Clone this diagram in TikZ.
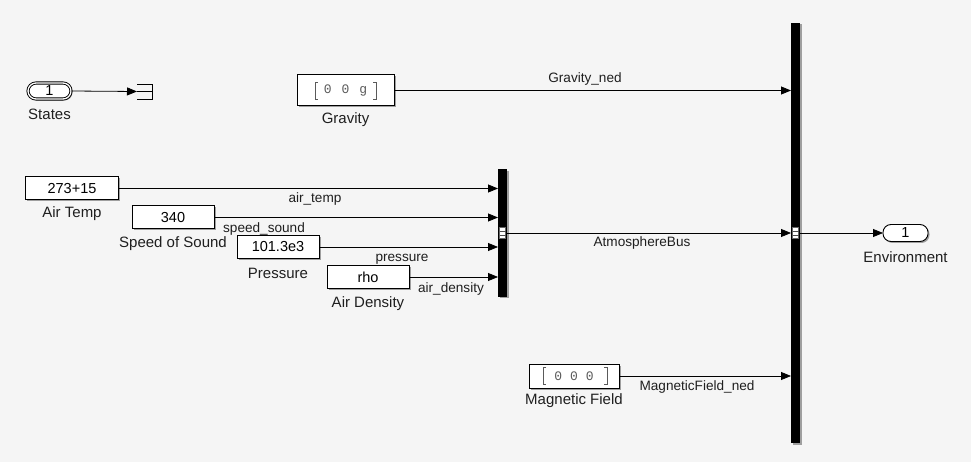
\documentclass[tikz,border=0pt]{standalone}
\usepackage{fontspec}
\setmainfont{Liberation Sans}
\newfontfamily\cmono{Liberation Mono}
\usetikzlibrary{arrows.meta,shadows,calc}
\definecolor{bgc}{HTML}{F5F5F5}
\definecolor{cgrey}{HTML}{5A5A5A}
\begin{document}
\begin{tikzpicture}[x=1pt,y=-1pt,
  every node/.style={font=\fontsize{14.5}{16}\selectfont, inner sep=0pt, outer sep=0pt},
  shad/.style={drop shadow={shadow xshift=1.5pt, shadow yshift=-1.5pt, opacity=0.35, fill=black}},
  blk/.style={draw, line width=1pt, fill=white, shad},
  bar/.style={fill=black, draw=none, minimum width=9pt, shad},
  port/.style={draw, line width=0.9pt, fill=white, rounded corners=8pt, minimum width=45pt, minimum height=17pt, shad},
  sig/.style={line width=0.8pt, -{Triangle[length=10pt,width=8pt]}},
  brk/.style={line width=0.8pt, cgrey},
  ctext/.style={font=\cmono\fontsize{13}{15}\selectfont, text=cgrey},
  lbl/.style={text=black!88, font=\fontsize{15}{17}\selectfont},
  slbl/.style={text=black!88, font=\fontsize{13.6}{15}\selectfont}
]
\fill[bgc] (0,0) rectangle (971,462);
\useasboundingbox (0,0) rectangle (971,462);

% bus bars
\node[bar, minimum height=127pt] (bc) at (502.5,233) {};
\node[bar, minimum height=420pt] (bs) at (795.5,233) {};

% inport States
\node[port, double, double distance=1.3pt, minimum width=43pt, minimum height=16pt] (states) at (49.5,91) {1};
\node[lbl] (statesl) at (49.5,114) {States};

% terminator
\node[minimum width=15pt, minimum height=15pt] (term) at (144.5,91.5) {};
\draw[line width=0.9pt] (term.north west) -- (term.north east) -- (term.south east) -- (term.south west);
\draw[line width=0.9pt] (term.west) -- (term.east);
\draw[sig] (states.east) -- (term.west);

% Gravity
\node[blk, minimum width=97pt, minimum height=31pt] (grav) at (345.5,90.5) {};
\node[ctext] (gravt) at (grav.center) {0\hspace{10pt}0\hspace{10pt}g};
\draw[brk] ($(grav.west)+(21,-8.5)$) -- ++(-3,0) -- ++(0,17) -- ++(3,0);
\draw[brk] ($(grav.east)+(-21,-8.5)$) -- ++(3,0) -- ++(0,17) -- ++(-3,0);
\node[lbl] (gravl) at (345.5,120) {Gravity};
\draw[sig] (grav.east) -- (grav.east -| bs.west);
\node[slbl] (gravn) at (585,79) {Gravity\_ned};

% Constants
\node[blk, minimum width=93pt, minimum height=23pt] (at) at (72,188.5) {273+15};
\node[lbl] (atl) at (72,214) {Air Temp};
\node[blk, minimum width=82pt, minimum height=23pt] (ss) at (173,217.5) {340};
\node[lbl] (ssl) at (173,244) {Speed of Sound};
\node[blk, minimum width=82pt, minimum height=23pt] (pr) at (278,247) {101.3e3};
\node[lbl] (prl) at (278,273) {Pressure};
\node[blk, minimum width=82pt, minimum height=23pt] (rho) at (368,277) {rho};
\node[lbl] (rhol) at (368,304) {Air Density};

\draw[sig] (at.east) -- (at.east -| bc.west);
\draw[sig] (ss.east) -- (ss.east -| bc.west);
\draw[sig] (pr.east) -- (pr.east -| bc.west);
\draw[sig] (rho.east) -- (rho.east -| bc.west);
\node[slbl] (atn) at (315,199) {air\_temp};
\node[slbl] (ssn) at (264,229) {speed\_sound};
\node[slbl] (prn) at (402,259) {pressure};
\node[slbl] (rhon) at (451,289) {air\_density};

% bus port markers
\node[draw=black!60, line width=0.5pt, fill=white, minimum width=6pt, minimum height=11pt] (bcm) at (bc.center) {};
\draw[black!70, line width=0.6pt] ($(bcm.west)+(0,-2)$) -- ($(bcm.east)+(0,-2)$) ($(bcm.west)+(0,2)$) -- ($(bcm.east)+(0,2)$);
\node[draw=black!60, line width=0.5pt, fill=white, minimum width=6pt, minimum height=11pt] (bsm) at (bs.center) {};
\draw[black!70, line width=0.6pt] ($(bsm.west)+(0,-2)$) -- ($(bsm.east)+(0,-2)$) ($(bsm.west)+(0,2)$) -- ($(bsm.east)+(0,2)$);

% bus out
\draw[sig] (bc.east) -- (bs.west);
\node[slbl] (abn) at (642,243) {AtmosphereBus};

% Environment outport
\node[port] (env) at (905.5,233) {1};
\node[lbl] (envl) at (905.5,257) {Environment};
\draw[sig] (bs.east) -- (env.west);

% Magnetic field
\node[blk, minimum width=90pt, minimum height=24pt] (mag) at (574,376) {};
\node[ctext] (magt) at (mag.center) {0\hspace{8pt}0\hspace{8pt}0};
\draw[brk] ($(mag.west)+(17,-8.5)$) -- ++(-3,0) -- ++(0,17) -- ++(3,0);
\draw[brk] ($(mag.east)+(-15,-8.5)$) -- ++(3,0) -- ++(0,17) -- ++(-3,0);
\node[lbl] (magl) at (574,401) {Magnetic Field};
\draw[sig] (mag.east) -- (mag.east -| bs.west);
\node[slbl] (magn) at (697,387) {MagneticField\_ned};
\end{tikzpicture}
\end{document}
